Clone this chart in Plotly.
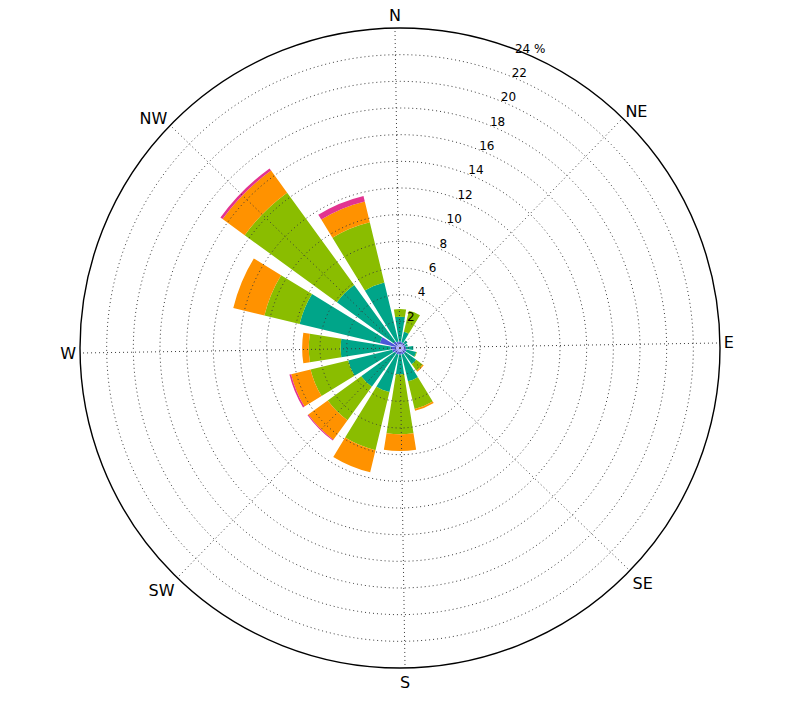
import plotly.graph_objects as go

# Direction sectors (compass degrees, clockwise from North)
directions = ["N", "NNE", "NE", "ENE", "E", "ESE", "SE", "SSE",
              "S", "SSW", "SW", "WSW", "W", "WNW", "NW", "NNW"]
dir_angles = [0, 22.5, 45, 67.5, 90, 112.5, 135, 157.5,
              180, 202.5, 225, 247.5, 270, 292.5, 315, 337.5]

# Frequency (%) of each speed bin per direction (bins stacked outward)
bin0 = [0.3, 0.3, 0.3, 0.3, 0.3, 0.3, 0.3, 0.3, 0.3, 0.3, 0.3, 0.3, 0.3, 0.3, 0.3, 0.3]
bin1 = [0.2, 0.15, 0.15, 0.1, 0.15, 0.2, 0.2, 0.2, 0.2, 0.2, 0.2, 0.3, 0.4, 1.25, 0.3, 0.2]
bin2 = [1.85, 0.8, 0.25, 0.2, 0.55, 0.75, 1.0, 2.07, 1.47, 2.9, 3.1, 3.4, 3.76, 6.19, 5.25, 4.55]
bin3 = [0.58, 1.62, 0.0, 0.0, 0.0, 0.05, 0.6, 2.13, 4.5, 4.48, 3.1, 2.9, 2.38, 2.72, 8.55, 4.65]
bin4 = [0.0, 0.0, 0.0, 0.0, 0.0, 0.0, 0.1, 0.14, 1.26, 1.7, 1.8, 1.5, 0.5, 2.4, 2.05, 1.6]
bin5 = [0.0, 0.0, 0.0, 0.0, 0.0, 0.0, 0.0, 0.0, 0.0, 0.0, 0.07, 0.13, 0.0, 0.0, 0.2, 0.43]

bins = [bin0, bin1, bin2, bin3, bin4, bin5]
bin_colors = ["#8b8bf5", "#4a57d9", "#00a589", "#8abd00", "#ff9200", "#e23390"]

compass_labels = ["N", "NE", "E", "SE", "S", "SW", "W", "NW"]
compass_ticks = [0, 45, 90, 135, 180, 225, 270, 315]
radial_ticks = [2, 4, 6, 8, 10, 12, 14, 16, 18, 20, 22, 24]
radial_labels = ["2", "4", "6", "8", "10", "12", "14", "16", "18", "20", "22", "24 %"]

ROT = 0.9  # slight counter-clockwise rotation of the grid
R_MAX = 24
sector_width = 18
label_theta = 24.0 + ROT
grid_color = "#3a3a3a"
grid_dash = "1px,3px"

fig = go.Figure()
for vals, col in zip(bins, bin_colors):
    fig.add_trace(go.Barpolar(
        r=vals,
        theta=[a + ROT for a in dir_angles],
        width=[sector_width] * len(dir_angles),
        marker=dict(color=col, line=dict(width=0)),
        showlegend=False,
        hoverinfo="skip",
    ))

# dotted grid drawn on top of the bars (as in the original)
circle_theta = list(range(0, 361))
for v in radial_ticks[:-1]:
    fig.add_trace(go.Scatterpolar(
        r=[v] * len(circle_theta), theta=circle_theta, mode="lines",
        line=dict(color=grid_color, width=1, dash=grid_dash),
        showlegend=False, hoverinfo="skip",
    ))
for t in compass_ticks:
    fig.add_trace(go.Scatterpolar(
        r=[0, R_MAX], theta=[t, t], mode="lines",
        line=dict(color=grid_color, width=1, dash=grid_dash),
        showlegend=False, hoverinfo="skip",
    ))

# radial tick labels placed just outside each ring
fig.add_trace(go.Scatterpolar(
    r=radial_ticks,
    theta=[label_theta] * len(radial_ticks),
    mode="text", text=radial_labels,
    textfont=dict(size=12, color="black", family="DejaVu Sans"),
    textposition="top center",
    showlegend=False, hoverinfo="skip", cliponaxis=False,
))

fig.update_layout(
    width=800, height=707,
    margin=dict(l=0, r=0, t=0, b=0),
    paper_bgcolor="white",
    font=dict(family="DejaVu Sans", color="black"),
    polar=dict(
        domain=dict(x=[72 / 800, 712 / 800], y=[47 / 707, 687 / 707]),
        bgcolor="white",
        barmode="stack",
        bargap=0,
        angularaxis=dict(
            direction="clockwise",
            rotation=90 + ROT,
            tickmode="array",
            tickvals=compass_ticks,
            ticktext=compass_labels,
            tickfont=dict(size=16),
            ticks="",
            showline=True,
            linecolor="black",
            linewidth=1.4,
            showgrid=False,
            layer="above traces",
        ),
        radialaxis=dict(
            range=[0, R_MAX],
            tickmode="array",
            tickvals=radial_ticks,
            showticklabels=False,
            ticks="",
            showline=False,
            showgrid=False,
        ),
    ),
)

fig.write_html("out.html")
